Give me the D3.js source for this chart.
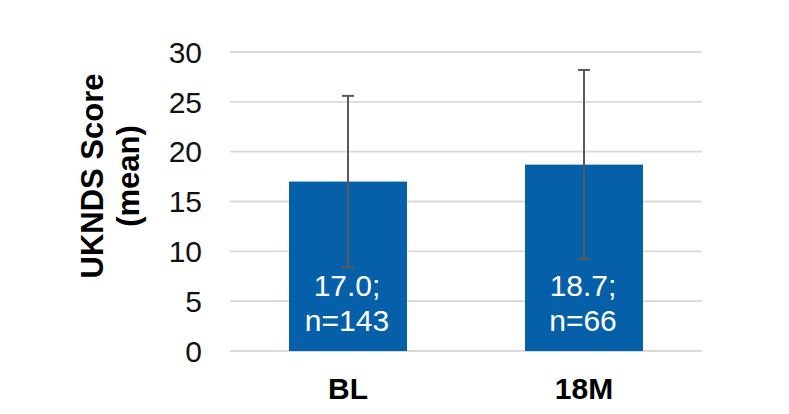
<!DOCTYPE html>
<html>
<head>
<meta charset="utf-8">
<script src="https://cdn.jsdelivr.net/npm/d3@7/dist/d3.min.js"></script>
<style>
  html, body { margin: 0; padding: 0; background: #ffffff; }
  svg { display: block; font-family: Arial, "Liberation Sans", sans-serif; }
</style>
</head>
<body>
<svg id="chart" width="789" height="414"></svg>
<script>
const categories = ["BL", "18M"];
const means = [17.0, 18.7];
const errUpper = [25.6, 28.2];
const errLower = [8.4, 9.2];
const nLabels = ["n=143", "n=66"];
const valueLabels = ["17.0;", "18.7;"];
const yTicks = [0, 5, 10, 15, 20, 25, 30];
const yTitleLines = ["UKNDS Score", "(mean)"];

const svg = d3.select("#chart");
const plotLeft = 230, plotRight = 702, plotTop = 52, plotBottom = 351;

const x = d3.scaleBand().domain(categories).range([plotLeft, plotRight]).padding(0);
const y = d3.scaleLinear().domain([0, 30]).range([plotBottom, plotTop]);
const barW = x.bandwidth() * 0.5;

// gridlines
svg.append("g").selectAll("line").data(yTicks).join("line")
  .attr("x1", plotLeft).attr("x2", plotRight)
  .attr("y1", d => y(d)).attr("y2", d => y(d))
  .attr("stroke", "#d9d9d9").attr("stroke-width", 1.8);

// y tick labels
svg.append("g").selectAll("text").data(yTicks).join("text")
  .attr("x", 202).attr("y", d => y(d) + 10.8)
  .attr("text-anchor", "end")
  .attr("font-size", 30).attr("fill", "#111")
  .text(d => d);

// bars
const data = categories.map((c, i) => ({c, m: means[i], hi: errUpper[i], lo: errLower[i], n: nLabels[i], v: valueLabels[i]}));
svg.append("g").selectAll("rect").data(data).join("rect")
  .attr("x", d => x(d.c) + x.bandwidth() / 2 - barW / 2)
  .attr("width", barW)
  .attr("y", d => y(d.m))
  .attr("height", d => y(0) - y(d.m))
  .attr("fill", "#0660a9");

// error bars
const eb = svg.append("g").attr("stroke", "#595959").attr("stroke-width", 2);
data.forEach(d => {
  const cx = x(d.c) + x.bandwidth() / 2;
  eb.append("line").attr("x1", cx).attr("x2", cx).attr("y1", y(d.hi)).attr("y2", y(d.lo));
  eb.append("line").attr("x1", cx - 6).attr("x2", cx + 6).attr("y1", y(d.hi)).attr("y2", y(d.hi));
  eb.append("line").attr("x1", cx - 6).attr("x2", cx + 6).attr("y1", y(d.lo)).attr("y2", y(d.lo));
});

// bar labels
const lbl = svg.append("g").attr("fill", "#ffffff").attr("font-size", 30).attr("text-anchor", "middle");
data.forEach(d => {
  const cx = x(d.c) + x.bandwidth() / 2 - 1;
  lbl.append("text").attr("x", cx).attr("y", 296).text(d.v);
  lbl.append("text").attr("x", cx).attr("y", 331).text(d.n);
});

// category labels
svg.append("g").selectAll("text").data(categories).join("text")
  .attr("x", d => x(d) + x.bandwidth() / 2)
  .attr("y", 399)
  .attr("text-anchor", "middle")
  .attr("font-size", 30).attr("font-weight", "bold").attr("fill", "#000")
  .text(d => d);

// y axis title
const yt = svg.append("text")
  .attr("transform", "translate(0,176) rotate(-90)")
  .attr("text-anchor", "middle")
  .attr("font-size", 31).attr("font-weight", "bold").attr("fill", "#000");
yt.append("tspan").attr("x", 0).attr("y", 103).text(yTitleLines[0]);
yt.append("tspan").attr("x", 0).attr("y", 138.5).text(yTitleLines[1]);
</script>
</body>
</html>
